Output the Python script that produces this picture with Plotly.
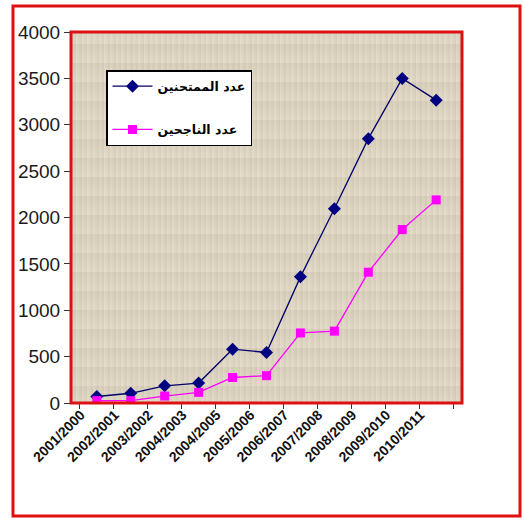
import base64
import struct
import zlib

import numpy as np
import plotly.graph_objects as go

# Academic years on the category axis
years = ["2001/2000", "2002/2001", "2003/2002", "2004/2003", "2004/2005",
         "2005/2006", "2006/2007", "2007/2008", "2008/2009", "2009/2010",
         "2010/2011"]

# Number of candidates sitting the exam
examinees = [70, 105, 185, 215, 580, 545, 1360, 2095, 2850, 3500, 3265]
# Number of candidates who passed
passed = [25, 25, 75, 115, 275, 295, 755, 775, 1410, 1870, 2190]

name_examinees = "عدد الممتحنين"
name_passed = "عدد الناجحين"


def canvas_texture(w, h):
    """Woven-canvas fill for the plot area, encoded as a PNG data URI."""
    yy, xx = np.mgrid[0:h, 0:w]
    # irregular thread strengths from a simple integer hash
    col_thread = ((np.arange(w) * 7919 + 13) % 17) / 16.0
    row_thread = ((np.arange(h) * 104729 + 7) % 19) / 18.0
    shade = (0.55 * (col_thread[xx] - 0.5) + 0.45 * (row_thread[yy] - 0.5))
    weave = ((xx // 2 + yy // 2) % 2) * 0.35 - 0.17
    v = shade + 0.4 * weave
    base = np.array([219, 210, 192], dtype=float)
    tint = np.array([22, 22, 24], dtype=float)
    img = np.clip(base[None, None, :] + v[..., None] * tint, 0, 255).astype(np.uint8)
    raw = b"".join(b"\x00" + img[r].tobytes() for r in range(h))

    def chunk(tag, data):
        c = struct.pack(">I", len(data)) + tag + data
        return c + struct.pack(">I", zlib.crc32(tag + data) & 0xFFFFFFFF)

    png = (b"\x89PNG\r\n\x1a\n"
           + chunk(b"IHDR", struct.pack(">IIBBBBB", w, h, 8, 2, 0, 0, 0))
           + chunk(b"IDAT", zlib.compress(raw, 9))
           + chunk(b"IEND", b""))
    return "data:image/png;base64," + base64.b64encode(png).decode()


fig = go.Figure()
fig.add_trace(go.Scatter(
    x=years, y=examinees, name=name_examinees, mode="lines+markers",
    line=dict(color="#000066", width=1.3),
    marker=dict(symbol="diamond", size=10, color="#000080"),
    legendgroup="a",
))
fig.add_trace(go.Scatter(
    x=years, y=passed, name=name_passed, mode="lines+markers",
    line=dict(color="#ff00ff", width=1.3),
    marker=dict(symbol="square", size=9, color="#ff00ff"),
    legendgroup="b",
))

L, R, T, B = 71, 63, 32, 115
W, H = 525, 518
pw, ph = W - L - R, H - T - B


def px_x(p):
    return (p - L) / pw


def px_y(p):
    return (H - B - p) / ph


fig.update_layout(
    width=W, height=H,
    margin=dict(l=L, r=R, t=T, b=B),
    paper_bgcolor="white",
    plot_bgcolor="#dad1be",
    font=dict(family="Liberation Sans, Arial, sans-serif", color="#222"),
    showlegend=True,
    legend=dict(
        x=px_x(106), y=px_y(70), xanchor="left", yanchor="top",
        bgcolor="white", bordercolor="black", borderwidth=1.5,
        font=dict(family="DejaVu Sans, sans-serif", size=12.5, color="black",
                  weight="bold"),
        tracegroupgap=24, itemwidth=40,
    ),
    xaxis=dict(
        type="category", showgrid=False, zeroline=False,
        tickangle=-45, ticks="outside", ticklen=5, tickcolor="#333",
        tickson="boundaries", ticklabelshift=-16,
        tickfont=dict(family="Liberation Sans, Arial, sans-serif", size=14,
                      color="#111", weight="bold"),
        showline=False,
    ),
    yaxis=dict(
        range=[0, 4000], dtick=500, showgrid=False, zeroline=False,
        ticks="outside", ticklen=6, tickcolor="#333",
        tickfont=dict(family="Liberation Sans, Arial, sans-serif", size=19,
                      color="#1a1a1a"),
        showline=False,
    ),
    images=[dict(
        source=canvas_texture(pw, ph), xref="paper", yref="paper",
        x=0, y=1, sizex=1, sizey=1, xanchor="left", yanchor="top",
        sizing="stretch", layer="below",
    )],
    shapes=[
        # frame around the plot area
        dict(type="rect", xref="paper", yref="paper", x0=0, x1=1, y0=0, y1=1,
             line=dict(color="#dd1111", width=3), layer="above"),
        # outer frame around the whole chart
        dict(type="rect", xref="paper", yref="paper",
             x0=px_x(13), x1=px_x(520), y0=px_y(516), y1=px_y(6),
             line=dict(color="#e01010", width=3)),
    ],
)

fig.write_html("out.html")
